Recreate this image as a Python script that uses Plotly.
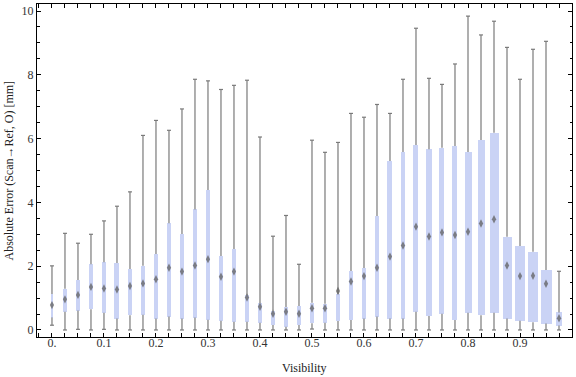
import plotly.graph_objects as go

# ---- data ----
visibility = [0.0, 0.025, 0.05, 0.075, 0.1, 0.125, 0.15, 0.175, 0.2, 0.225,
              0.25, 0.275, 0.3, 0.325, 0.35, 0.375, 0.4, 0.425, 0.45, 0.475,
              0.5, 0.525, 0.55, 0.575, 0.6, 0.625, 0.65, 0.675, 0.7, 0.725,
              0.75, 0.775, 0.8, 0.825, 0.85, 0.875, 0.9, 0.925, 0.95, 0.975]
whisker_min = [0.15, 0.0, 0.02, 0.0, 0.02, 0.0, 0.0, 0.0, 0.0, 0.0,
               0.0, 0.0, 0.0, 0.0, 0.0, 0.0, 0.0, 0.0, 0.0, 0.0,
               0.03, 0.0, 0.0, 0.0, 0.0, 0.0, 0.0, 0.0, 0.0, 0.0,
               0.0, 0.0, 0.0, 0.0, 0.0, 0.0, 0.0, 0.0, 0.0, 0.0]
q1 = [0.39, 0.57, 0.61, 0.65, 0.54, 0.36, 0.46, 0.48, 0.36, 0.42,
      0.36, 0.39, 0.32, 0.29, 0.26, 0.26, 0.23, 0.16, 0.10, 0.16,
      0.21, 0.23, 0.28, 0.31, 0.36, 0.42, 0.36, 0.36, 0.57, 0.44,
      0.51, 0.31, 0.54, 0.46, 0.54, 0.36, 0.29, 0.24, 0.20, 0.14]
median = [0.78, 0.96, 1.10, 1.35, 1.30, 1.27, 1.38, 1.46, 1.59, 1.95,
          1.83, 2.02, 2.22, 1.67, 1.83, 1.02, 0.73, 0.51, 0.57, 0.51,
          0.68, 0.68, 1.22, 1.52, 1.69, 1.95, 2.30, 2.65, 3.24, 2.93,
          3.06, 2.98, 3.08, 3.34, 3.47, 2.02, 1.69, 1.70, 1.45, 0.37]
q3 = [1.13, 1.29, 1.57, 2.06, 2.12, 2.10, 1.91, 2.01, 2.38, 3.35,
      3.01, 3.78, 4.39, 2.32, 2.54, 1.10, 0.84, 0.60, 0.72, 0.75,
      0.85, 0.82, 1.13, 1.85, 1.94, 3.57, 5.30, 5.58, 5.80, 5.67,
      5.71, 5.77, 5.58, 5.96, 6.18, 2.92, 2.63, 2.45, 1.88, 0.55]
whisker_max = [2.01, 3.03, 2.72, 3.00, 3.42, 3.88, 4.33, 6.10, 6.57, 6.26,
               6.93, 7.86, 7.81, 7.54, 7.67, 7.83, 6.05, 2.94, 3.59, 2.06,
               5.95, 5.57, 5.88, 6.79, 6.67, 7.07, 6.79, 7.86, 9.46, 7.89,
               7.70, 8.34, 9.84, 9.25, 9.68, 8.86, 7.86, 8.80, 9.05, 1.84]
x_tick_vals = [0.0, 0.1, 0.2, 0.3, 0.4, 0.5, 0.6, 0.7, 0.8, 0.9]
x_tick_text = ["0.", "0.1", "0.2", "0.3", "0.4", "0.5", "0.6", "0.7", "0.8", "0.9"]
y_tick_vals = [0, 2, 4, 6, 8, 10]
x_title = "Visibility"
y_title = "Absolute Error (Scan→Ref, O) [mm]"

# ---- styling ----
BOX_W_PX = [2, 4, 4, 4, 4, 5, 4, 4, 4, 4, 4, 4, 4, 4, 4, 4, 4, 4, 4, 4.5,
            4, 4, 4, 4, 4, 4, 5, 4, 5, 6, 5, 5, 7, 7, 9, 9, 10, 10, 11, 6]
X_RANGE = [-0.0288, 1.0]
Y_RANGE = [-0.22, 10.22]
PLOT_W_PX = 535
PLOT_H_PX = 333
PX = (X_RANGE[1] - X_RANGE[0]) / PLOT_W_PX
CAP = 2.0 * PX
BOX_FILL = "#CAD3F5"
WHISKER = "#7a7a7a"
FONT = "Liberation Serif, Times New Roman, serif"

# whisker segments (min->q1, q3->max) with caps
wx, wy = [], []
for x, lo, a, b, hi in zip(visibility, whisker_min, q1, q3, whisker_max):
    wx += [x, x, None, x, x, None, x - CAP, x + CAP, None, x - CAP, x + CAP, None]
    wy += [lo, a, None, b, hi, None, lo, lo, None, hi, hi, None]

fig = go.Figure()
fig.add_trace(go.Scatter(x=wx, y=wy, mode="lines",
                         line=dict(color=WHISKER, width=1.2),
                         hoverinfo="skip", showlegend=False))
fig.add_trace(go.Bar(x=visibility,
                     y=[b - a for a, b in zip(q1, q3)],
                     base=q1,
                     width=[w * PX for w in BOX_W_PX],
                     marker=dict(color=BOX_FILL, line=dict(width=0)),
                     showlegend=False))
fig.add_trace(go.Scatter(x=visibility, y=median, mode="markers",
                         marker=dict(symbol="diamond-tall", size=6,
                                     color="rgba(95,95,95,0.75)",
                                     line=dict(width=0)),
                         showlegend=False))

axis_common = dict(showgrid=False, zeroline=False, showline=True,
                   linecolor="black", linewidth=1, mirror="allticks",
                   ticks="inside", tickcolor="black", tickwidth=1,
                   automargin=False,
                   tickfont=dict(family=FONT, size=12, color="#333333"))

fig.update_layout(
    width=576, height=377,
    margin=dict(l=37, r=4, t=4, b=40, autoexpand=False),
    paper_bgcolor="white", plot_bgcolor="white",
    bargap=0,
    xaxis=dict(range=X_RANGE, tickvals=x_tick_vals, ticktext=x_tick_text,
               ticklen=4, ticklabelstandoff=-5,
               minor=dict(dtick=0.025, tick0=0, ticks="inside", ticklen=4,
                          tickcolor="black", tickwidth=1),
               **axis_common),
    yaxis=dict(range=Y_RANGE, tickvals=y_tick_vals, ticklen=4,
               minor=dict(dtick=0.5, tick0=0, ticks="inside", ticklen=2.5,
                          tickcolor="black", tickwidth=1),
               **axis_common),
    annotations=[
        dict(text=x_title, xref="paper", yref="paper",
             x=0.5, y=-(368 - 337) / PLOT_H_PX, xanchor="center", yanchor="middle",
             showarrow=False, font=dict(family=FONT, size=12, color="#222222")),
        dict(text=y_title, xref="paper", yref="paper",
             x=(8 - 37) / PLOT_W_PX, y=0.5, xanchor="center", yanchor="middle",
             textangle=-90, showarrow=False,
             font=dict(family=FONT, size=12, color="#222222")),
    ],
)

fig.write_html("out.html",
               config={"displayModeBar": False},
               post_script="document.body.style.margin='0';document.body.style.overflow='hidden';")
